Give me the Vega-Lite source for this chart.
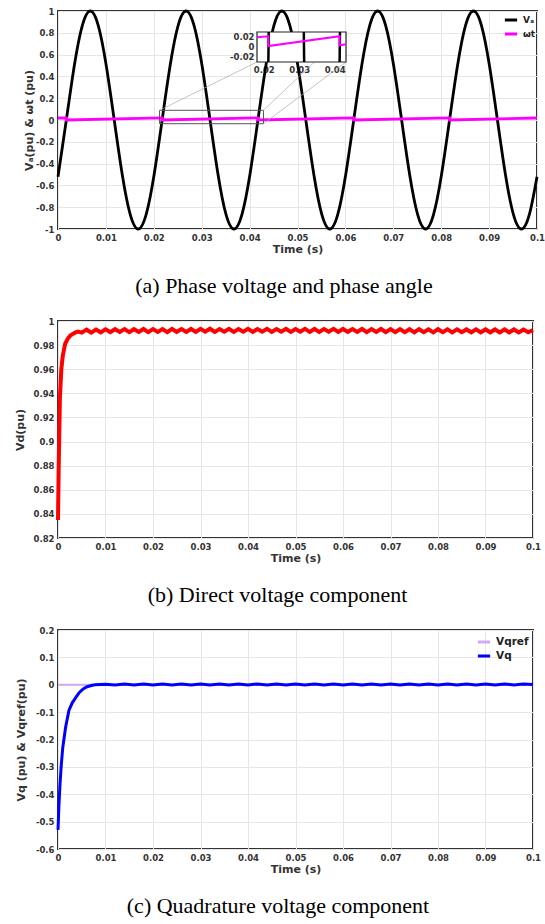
{
  "$schema": "https://vega.github.io/schema/vega-lite/v6.json",
  "background": "white",
  "padding": {"left": 13, "top": 4, "right": 6, "bottom": 0},
  "columns": 1,
  "align": "none",
  "spacing": 18,
  "resolve": {"scale": {"color": "independent"}, "legend": {"color": "independent"}},
  "config": {
    "font": "DejaVu Sans",
    "view": {"stroke": "#333", "strokeWidth": 2},
    "axis": {"labelFont": "DejaVu Sans", "labelFontWeight": "bold", "labelFontSize": 8.5, "labelColor": "#333", "titleFont": "DejaVu Sans", "titleFontWeight": "bold", "titleFontSize": 11, "titleColor": "#333", "domain": false, "ticks": false, "gridColor": "#e6e6e6", "labelPadding": 4, "labelFlush": false, "labelOverlap": false, "labelBound": false},
    "axisX": {"titlePadding": 2},
    "axisY": {"titlePadding": 1},
    "legend": {"orient": "top-right", "labelFont": "DejaVu Sans", "labelFontWeight": "bold", "labelFontSize": 9, "labelColor": "#222", "symbolType": "stroke", "symbolStrokeWidth": 3, "symbolSize": 150, "rowPadding": 0, "padding": 1, "offset": 0},
    "title": {"orient": "bottom", "anchor": "middle", "frame": "bounds", "font": "Liberation Serif", "fontSize": 22, "fontWeight": "normal", "color": "#000", "offset": 21}
  },
  "datasets": {
    "va": [{"t":0,"v":-0.52},{"t":0.00174,"v":0},{"t":0.00341,"v":0.5},{"t":0.00507,"v":0.866},{"t":0.00674,"v":1},{"t":0.00841,"v":0.866},{"t":0.01007,"v":0.5},{"t":0.01174,"v":0},{"t":0.01341,"v":-0.5},{"t":0.01507,"v":-0.866},{"t":0.01674,"v":-1},{"t":0.01841,"v":-0.866},{"t":0.02007,"v":-0.5},
      {"t":0.02174,"v":0},{"t":0.02341,"v":0.5},{"t":0.02507,"v":0.866},{"t":0.02674,"v":1},{"t":0.02841,"v":0.866},{"t":0.03007,"v":0.5},{"t":0.03174,"v":0},{"t":0.03341,"v":-0.5},{"t":0.03507,"v":-0.866},{"t":0.03674,"v":-1},{"t":0.03841,"v":-0.866},{"t":0.04007,"v":-0.5},
      {"t":0.04174,"v":0},{"t":0.04341,"v":0.5},{"t":0.04507,"v":0.866},{"t":0.04674,"v":1},{"t":0.04841,"v":0.866},{"t":0.05007,"v":0.5},{"t":0.05174,"v":0},{"t":0.05341,"v":-0.5},{"t":0.05507,"v":-0.866},{"t":0.05674,"v":-1},{"t":0.05841,"v":-0.866},{"t":0.06007,"v":-0.5},
      {"t":0.06174,"v":0},{"t":0.06341,"v":0.5},{"t":0.06507,"v":0.866},{"t":0.06674,"v":1},{"t":0.06841,"v":0.866},{"t":0.07007,"v":0.5},{"t":0.07174,"v":0},{"t":0.07341,"v":-0.5},{"t":0.07507,"v":-0.866},{"t":0.07674,"v":-1},{"t":0.07841,"v":-0.866},{"t":0.08007,"v":-0.5},
      {"t":0.08174,"v":0},{"t":0.08341,"v":0.5},{"t":0.08507,"v":0.866},{"t":0.08674,"v":1},{"t":0.08841,"v":0.866},{"t":0.09007,"v":0.5},{"t":0.09174,"v":0},{"t":0.09341,"v":-0.5},{"t":0.09507,"v":-0.866},{"t":0.09674,"v":-1},{"t":0.09841,"v":-0.866},{"t":0.1,"v":-0.52}],
    "wt": [{"t":0,"v":0.0183},{"t":0.00174,"v":0.02},{"t":0.00174,"v":0},{"t":0.02174,"v":0.02},{"t":0.02174,"v":0},{"t":0.04174,"v":0.02},{"t":0.04174,"v":0},{"t":0.06174,"v":0.02},{"t":0.06174,"v":0},{"t":0.08174,"v":0.02},{"t":0.08174,"v":0},{"t":0.1,"v":0.0183}],
    "insetVa": [{"g":1,"t":0.0213,"v":-0.032},{"g":1,"t":0.0214,"v":0.028},{"g":2,"t":0.0314,"v":-0.032},{"g":2,"t":0.0313,"v":0.028},{"g":3,"t":0.0414,"v":-0.032},{"g":3,"t":0.0415,"v":0.028}],
    "insetWt": [{"t":0.0181,"v":0.0175},{"t":0.0213,"v":0.0195},{"t":0.0213,"v":0.0},{"t":0.0414,"v":0.0195},{"t":0.0414,"v":0.0015},{"t":0.0432,"v":0.0035}],
    "vd": [{"t":0,"v":0.835},{"t":0.00015,"v":0.88},{"t":0.0004,"v":0.936},{"t":0.0007,"v":0.96},{"t":0.001,"v":0.971},{"t":0.0015,"v":0.981},{"t":0.002,"v":0.985},{"t":0.0026,"v":0.988},{"t":0.0032,"v":0.9895},{"t":0.0037,"v":0.9905},{"t":0.0042,"v":0.9912},
      {"t":0.005,"v":0.9903},{"t":0.006,"v":0.9928},{"t":0.007,"v":0.9904},{"t":0.008,"v":0.9929},{"t":0.009,"v":0.9906},{"t":0.010,"v":0.9931},{"t":0.011,"v":0.9908},{"t":0.012,"v":0.9932},{"t":0.013,"v":0.9909},{"t":0.014,"v":0.9933},{"t":0.015,"v":0.9907},{"t":0.016,"v":0.9932},{"t":0.017,"v":0.9909},{"t":0.018,"v":0.9934},{"t":0.019,"v":0.9908},{"t":0.020,"v":0.9933},
      {"t":0.021,"v":0.9909},{"t":0.022,"v":0.9933},{"t":0.023,"v":0.9908},{"t":0.024,"v":0.9934},{"t":0.025,"v":0.9910},{"t":0.026,"v":0.9933},{"t":0.027,"v":0.9909},{"t":0.028,"v":0.9934},{"t":0.029,"v":0.9910},{"t":0.030,"v":0.9935},{"t":0.031,"v":0.9911},{"t":0.032,"v":0.9936},{"t":0.033,"v":0.9910},{"t":0.034,"v":0.9934},{"t":0.035,"v":0.9911},{"t":0.036,"v":0.9935},{"t":0.037,"v":0.9910},{"t":0.038,"v":0.9934},{"t":0.039,"v":0.9911},{"t":0.040,"v":0.9935},
      {"t":0.041,"v":0.9910},{"t":0.042,"v":0.9934},{"t":0.043,"v":0.9911},{"t":0.044,"v":0.9935},{"t":0.045,"v":0.9910},{"t":0.046,"v":0.9934},{"t":0.047,"v":0.9911},{"t":0.048,"v":0.9935},{"t":0.049,"v":0.9910},{"t":0.050,"v":0.9934},{"t":0.051,"v":0.9911},{"t":0.052,"v":0.9935},{"t":0.053,"v":0.9910},{"t":0.054,"v":0.9934},{"t":0.055,"v":0.9910},{"t":0.056,"v":0.9934},{"t":0.057,"v":0.9911},{"t":0.058,"v":0.9935},{"t":0.059,"v":0.9909},{"t":0.060,"v":0.9934},
      {"t":0.061,"v":0.9910},{"t":0.062,"v":0.9933},{"t":0.063,"v":0.9909},{"t":0.064,"v":0.9934},{"t":0.065,"v":0.9908},{"t":0.066,"v":0.9933},{"t":0.067,"v":0.9909},{"t":0.068,"v":0.9934},{"t":0.069,"v":0.9908},{"t":0.070,"v":0.9933},{"t":0.071,"v":0.9907},{"t":0.072,"v":0.9933},{"t":0.073,"v":0.9908},{"t":0.074,"v":0.9932},{"t":0.075,"v":0.9906},{"t":0.076,"v":0.9932},{"t":0.077,"v":0.9907},{"t":0.078,"v":0.9931},{"t":0.079,"v":0.9906},{"t":0.080,"v":0.9932},
      {"t":0.081,"v":0.9907},{"t":0.082,"v":0.9931},{"t":0.083,"v":0.9906},{"t":0.084,"v":0.9931},{"t":0.085,"v":0.9907},{"t":0.086,"v":0.9930},{"t":0.087,"v":0.9906},{"t":0.088,"v":0.9931},{"t":0.089,"v":0.9906},{"t":0.090,"v":0.9930},{"t":0.091,"v":0.9906},{"t":0.092,"v":0.9930},{"t":0.093,"v":0.9905},{"t":0.094,"v":0.9930},{"t":0.095,"v":0.9906},{"t":0.096,"v":0.9930},{"t":0.097,"v":0.9905},{"t":0.098,"v":0.9929},{"t":0.099,"v":0.9906},{"t":0.1,"v":0.9925}],
    "vq": [{"t":0,"v":-0.53},{"t":0.0002,"v":-0.44},{"t":0.0004,"v":-0.37},{"t":0.00066,"v":-0.3},{"t":0.001,"v":-0.23},{"t":0.0016,"v":-0.155},{"t":0.0023,"v":-0.094},{"t":0.003,"v":-0.066},{"t":0.0038,"v":-0.045},{"t":0.0045,"v":-0.028},{"t":0.0053,"v":-0.015},{"t":0.006,"v":-0.008},{"t":0.007,"v":-0.003},{"t":0.0078,"v":0.0},{"t":0.009,"v":0.001},
      {"t":0.010,"v":0.002},{"t":0.012,"v":-0.001},{"t":0.014,"v":0.003},{"t":0.016,"v":-0.001},{"t":0.018,"v":0.003},{"t":0.020,"v":-0.001},{"t":0.022,"v":0.003},{"t":0.024,"v":-0.001},{"t":0.026,"v":0.003},{"t":0.028,"v":-0.001},{"t":0.030,"v":0.003},{"t":0.032,"v":-0.001},{"t":0.034,"v":0.003},{"t":0.036,"v":-0.001},{"t":0.038,"v":0.003},{"t":0.040,"v":-0.001},{"t":0.042,"v":0.003},{"t":0.044,"v":-0.001},{"t":0.046,"v":0.003},{"t":0.048,"v":-0.001},{"t":0.050,"v":0.003},{"t":0.052,"v":-0.001},{"t":0.054,"v":0.003},{"t":0.056,"v":-0.001},{"t":0.058,"v":0.003},{"t":0.060,"v":-0.001},{"t":0.062,"v":0.003},{"t":0.064,"v":-0.001},{"t":0.066,"v":0.003},{"t":0.068,"v":-0.001},{"t":0.070,"v":0.003},{"t":0.072,"v":-0.001},{"t":0.074,"v":0.003},{"t":0.076,"v":-0.001},{"t":0.078,"v":0.003},{"t":0.080,"v":-0.001},{"t":0.082,"v":0.003},{"t":0.084,"v":-0.001},{"t":0.086,"v":0.003},{"t":0.088,"v":-0.001},{"t":0.090,"v":0.003},{"t":0.092,"v":-0.001},{"t":0.094,"v":0.003},{"t":0.096,"v":-0.001},{"t":0.098,"v":0.003},{"t":0.1,"v":0.001}],
    "vqref": [{"t":0,"v":0},{"t":0.1,"v":0}]
  },
  "concat": [
    {
      "width": 479,
      "height": 218,
      "title": "(a) Phase voltage and phase angle",
      "resolve": {"scale": {"x": "independent", "y": "independent"}},
      "layer": [
        {
          "layer": [
            {
              "data": {"name": "va"},
              "mark": {"type": "line", "interpolate": "natural", "strokeWidth": 2.8},
              "encoding": {
                "x": {"field": "t", "type": "quantitative", "title": "Time (s)", "scale": {"domain": [0, 0.1], "nice": false}, "axis": {"values": [0,0.01,0.02,0.03,0.04,0.05,0.06,0.07,0.08,0.09,0.1], "labelExpr": "'' + datum.value", "labelOverlap": false}},
                "y": {"field": "v", "type": "quantitative", "title": "Vₐ(pu) & ωt (pu)", "scale": {"domain": [-1, 1], "nice": false}, "axis": {"values": [-1,-0.8,-0.6,-0.4,-0.2,0,0.2,0.4,0.6,0.8,1], "labelExpr": "'' + datum.value", "labelOverlap": false}},
                "color": {"datum": "Vₐ", "scale": {"domain": ["Vₐ", "ωt"], "range": ["#000000", "#ff00ff"]}, "legend": {"title": null}}
              }
            },
            {
              "data": {"name": "wt"},
              "mark": {"type": "line", "strokeWidth": 2.8},
              "encoding": {
                "x": {"field": "t", "type": "quantitative", "title": "Time (s)", "axis": {"values": [0,0.01,0.02,0.03,0.04,0.05,0.06,0.07,0.08,0.09,0.1], "labelExpr": "'' + datum.value", "labelOverlap": false}},
                "y": {"field": "v", "type": "quantitative", "title": "Vₐ(pu) & ωt (pu)", "axis": {"values": [-1,-0.8,-0.6,-0.4,-0.2,0,0.2,0.4,0.6,0.8,1], "labelExpr": "'' + datum.value", "labelOverlap": false}},
                "color": {"datum": "ωt"}
              }
            },
            {
              "data": {"values": [{"x1": 0.0212, "x2": 0.0429, "y1": -0.034, "y2": 0.089}]},
              "mark": {"type": "rect", "fill": "transparent", "stroke": "#555", "strokeWidth": 1},
              "encoding": {
                "x": {"field": "x1", "type": "quantitative", "title": "Time (s)", "axis": {"values": [0,0.01,0.02,0.03,0.04,0.05,0.06,0.07,0.08,0.09,0.1], "labelExpr": "'' + datum.value", "labelOverlap": false}}, "x2": {"field": "x2"},
                "y": {"field": "y1", "type": "quantitative", "title": "Vₐ(pu) & ωt (pu)", "axis": {"values": [-1,-0.8,-0.6,-0.4,-0.2,0,0.2,0.4,0.6,0.8,1], "labelExpr": "'' + datum.value", "labelOverlap": false}}, "y2": {"field": "y2"}
              }
            },
            {
              "data": {"values": [{"x1": 0.0212, "y1": 0.089, "x2": 0.04154, "y2": 0.532}, {"x1": 0.0429, "y1": 0.089, "x2": 0.06013, "y2": 0.807}, {"x1": 0.0429, "y1": -0.034, "x2": 0.06013, "y2": 0.532}]},
              "mark": {"type": "rule", "color": "#aaaaaa", "strokeWidth": 0.7},
              "encoding": {
                "x": {"field": "x1", "type": "quantitative", "title": "Time (s)", "axis": {"values": [0,0.01,0.02,0.03,0.04,0.05,0.06,0.07,0.08,0.09,0.1], "labelExpr": "'' + datum.value", "labelOverlap": false}}, "x2": {"field": "x2"},
                "y": {"field": "y1", "type": "quantitative", "title": "Vₐ(pu) & ωt (pu)", "axis": {"values": [-1,-0.8,-0.6,-0.4,-0.2,0,0.2,0.4,0.6,0.8,1], "labelExpr": "'' + datum.value", "labelOverlap": false}}, "y2": {"field": "y2"}
              }
            }
          ]
        },
        {
          "layer": [
            {
              "data": {"values": [{"x1": 0.0181, "x2": 0.0432, "y1": -0.032, "y2": 0.028}]},
              "mark": {"type": "rect", "fill": "white", "stroke": "#222", "strokeWidth": 1.2},
              "encoding": {
                "x": {"field": "x1", "type": "quantitative", "scale": {"domain": [0.0181, 0.0432], "range": [199, 288], "nice": false, "zero": false}, "axis": {"orient": "bottom", "offset": -167, "values": [0.02, 0.03, 0.04], "grid": false, "title": null, "labelExpr": "'' + datum.value", "labelPadding": 3, "labelOverlap": false}},
                "x2": {"field": "x2"},
                "y": {"field": "y1", "type": "quantitative", "scale": {"domain": [-0.032, 0.028], "range": [51, 21], "nice": false, "zero": false}, "axis": {"orient": "left", "offset": -199, "values": [-0.02, 0, 0.02], "grid": false, "title": null, "labelExpr": "'' + datum.value", "labelPadding": 3, "labelOverlap": false}},
                "y2": {"field": "y2"}
              }
            },
            {
              "data": {"name": "insetVa"},
              "mark": {"type": "line", "color": "#000000", "strokeWidth": 2.5},
              "encoding": {
                "x": {"field": "t", "type": "quantitative", "axis": {"orient": "bottom", "offset": -167, "values": [0.02, 0.03, 0.04], "grid": false, "title": null, "labelExpr": "'' + datum.value", "labelPadding": 3, "labelOverlap": false}},
                "y": {"field": "v", "type": "quantitative", "axis": {"orient": "left", "offset": -199, "values": [-0.02, 0, 0.02], "grid": false, "title": null, "labelExpr": "'' + datum.value", "labelPadding": 3, "labelOverlap": false}},
                "detail": {"field": "g"}
              }
            },
            {
              "data": {"name": "insetWt"},
              "mark": {"type": "line", "color": "#ff00ff", "strokeWidth": 2},
              "encoding": {
                "x": {"field": "t", "type": "quantitative", "axis": {"orient": "bottom", "offset": -167, "values": [0.02, 0.03, 0.04], "grid": false, "title": null, "labelExpr": "'' + datum.value", "labelPadding": 3, "labelOverlap": false}},
                "y": {"field": "v", "type": "quantitative", "axis": {"orient": "left", "offset": -199, "values": [-0.02, 0, 0.02], "grid": false, "title": null, "labelExpr": "'' + datum.value", "labelPadding": 3, "labelOverlap": false}}
              }
            }
          ]
        }
      ]
    },
    {
      "width": 475,
      "height": 217,
      "title": "(b) Direct voltage component",
      "data": {"name": "vd"},
      "mark": {"type": "line", "color": "#ff0000", "strokeWidth": 4},
      "encoding": {
        "x": {"field": "t", "type": "quantitative", "title": "Time (s)", "scale": {"domain": [0, 0.1], "nice": false}, "axis": {"values": [0,0.01,0.02,0.03,0.04,0.05,0.06,0.07,0.08,0.09,0.1], "labelExpr": "'' + datum.value", "labelOverlap": false}},
        "y": {"field": "v", "type": "quantitative", "title": "Vd(pu)", "scale": {"domain": [0.82, 1], "nice": false, "zero": false}, "axis": {"values": [0.82,0.84,0.86,0.88,0.9,0.92,0.94,0.96,0.98,1], "labelExpr": "'' + datum.value", "labelOverlap": false, "titlePadding": 8}}
      }
    },
    {
      "width": 475,
      "height": 219,
      "title": "(c) Quadrature voltage component",
      "layer": [
        {
          "data": {"name": "vqref"},
          "mark": {"type": "line", "strokeWidth": 2.2},
          "encoding": {
            "x": {"field": "t", "type": "quantitative", "title": "Time (s)", "scale": {"domain": [0, 0.1], "nice": false}, "axis": {"values": [0,0.01,0.02,0.03,0.04,0.05,0.06,0.07,0.08,0.09,0.1], "labelExpr": "'' + datum.value", "labelOverlap": false}},
            "y": {"field": "v", "type": "quantitative", "title": "Vq (pu) & Vqref(pu)", "scale": {"domain": [-0.6, 0.2], "nice": false}, "axis": {"values": [-0.6,-0.5,-0.4,-0.3,-0.2,-0.1,0,0.1,0.2], "labelExpr": "'' + datum.value", "labelOverlap": false, "titlePadding": 9}},
            "color": {"datum": "Vqref", "scale": {"domain": ["Vqref", "Vq"], "range": ["#d2aaf0", "#0000ff"]}, "legend": {"title": null, "labelFontSize": 10.5, "offset": 3}}
          }
        },
        {
          "data": {"name": "vq"},
          "mark": {"type": "line", "strokeWidth": 3},
          "encoding": {
            "x": {"field": "t", "type": "quantitative", "title": "Time (s)", "axis": {"values": [0,0.01,0.02,0.03,0.04,0.05,0.06,0.07,0.08,0.09,0.1], "labelExpr": "'' + datum.value", "labelOverlap": false}},
            "y": {"field": "v", "type": "quantitative", "title": "Vq (pu) & Vqref(pu)", "axis": {"values": [-0.6,-0.5,-0.4,-0.3,-0.2,-0.1,0,0.1,0.2], "labelExpr": "'' + datum.value", "labelOverlap": false, "titlePadding": 9}},
            "color": {"datum": "Vq"}
          }
        }
      ]
    }
  ]
}
